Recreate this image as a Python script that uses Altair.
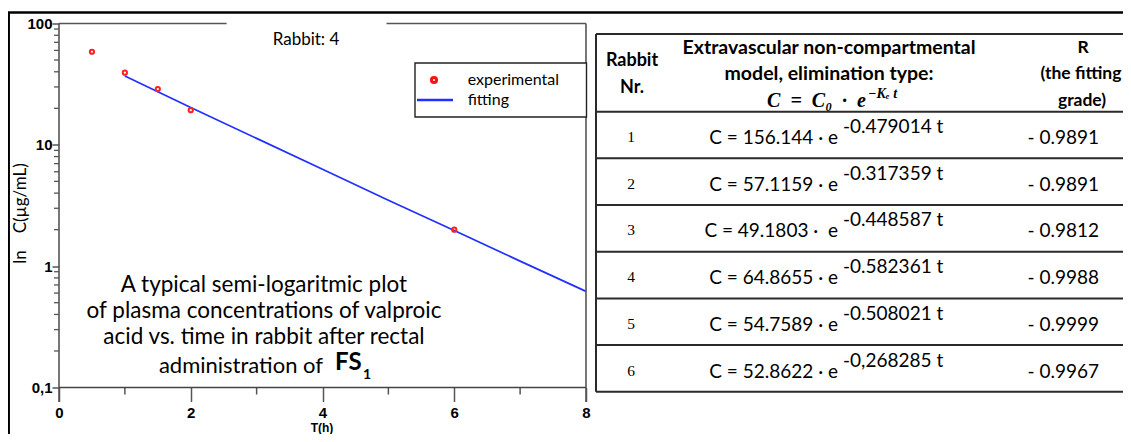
import altair as alt
import pandas as pd

# ---------------- data ----------------
t_exp = [0.5, 1.0, 1.5, 2.0, 6.0]
c_exp = [58.5, 39.3, 28.8, 19.3, 2.0]

t_fit = [1, 2, 3, 4, 5, 6, 7, 8]
c_fit = [37.0, 20.3, 11.3, 6.3, 3.5, 1.97, 1.1, 0.62]

x_major = [0, 2, 4, 6, 8]
x_minor = [1, 3, 5, 7]
y_major = [0.1, 1, 10, 100]
y_minor = [0.2, 0.3, 0.4, 0.5, 0.6, 0.7, 0.8, 0.9,
           2, 3, 4, 5, 6, 7, 8, 9,
           20, 30, 40, 50, 60, 70, 80, 90]

rabbit_nr = ["1", "2", "3", "4", "5", "6"]
c0_text = ["C = 156.144 · e", "C = 57.1159 · e", "C = 49.1803 ·\u00a0 e",
           "C = 64.8655 · e", "C = 54.7589 · e", "C = 52.8622 · e"]
ke_text = ["-0.479014 t", "-0.317359 t", "-0.448587 t",
           "-0.582361 t", "-0.508021 t", "-0,268285 t"]
r_text = ["- 0.9891", "- 0.9891", "- 0.9812", "- 0.9988", "- 0.9999", "- 0.9967"]

note_lines = ["A typical semi-logaritmic plot",
              "of plasma concentrations of valproic",
              "acid vs. time in rabbit after rectal"]

# ---------------- layout ----------------
W, H = 527, 364
NARROW = "Liberation Sans Narrow, Arial Narrow, Liberation Sans, Arial, sans-serif"
SANS = "Lato, Open Sans, sans-serif"
SERIF = "Liberation Serif, DejaVu Serif, serif"
AX = "#555555"
EN = "\u2002"

one = pd.DataFrame({"k": [0]})


def txt(s, x, y, size, font=SANS, weight="normal", align="center",
        style="normal", color="black", angle=0):
    return alt.Chart(one).mark_text(
        text=s, fontSize=size, font=font, fontWeight=weight, align=align,
        baseline="middle", fontStyle=style, color=color, angle=angle
    ).encode(x=alt.value(x), y=alt.value(y))


def rule(x, x2, y, y2, color="black", w=1.5):
    return alt.Chart(one).mark_rule(color=color, strokeWidth=w).encode(
        x=alt.value(x), x2=alt.value(x2), y=alt.value(y), y2=alt.value(y2))


xs = alt.Scale(domain=[0, 8], nice=False, zero=False)
ys = alt.Scale(type="log", domain=[0.1, 100], nice=False)

xax = alt.Axis(values=x_major, format="d", tickSize=14, tickWidth=1.5,
               tickColor=AX, domain=False, grid=False, labelFont=NARROW,
               labelFontSize=15, labelFontWeight="bold", labelColor="black",
               labelPadding=11, labelBaseline="middle", labelFlush=False,
               title=None)
yax = alt.Axis(values=y_major,
               labelExpr="datum.value >= 100 ? '100' : datum.value >= 10 ? '10' : datum.value >= 1 ? '1' : '0,1'",
               tickSize=7, tickWidth=1.5, tickColor=AX, domain=False,
               grid=False, labelFont=NARROW, labelFontSize=15,
               labelFontWeight="bold", labelColor="black", labelPadding=0,
               labelFlush=False, title=None)

exp_df = pd.DataFrame({"t": t_exp, "c": c_exp})
fit_df = pd.DataFrame({"t": t_fit, "c": c_fit})
yminor_df = pd.DataFrame({"v": y_minor})
xminor_df = pd.DataFrame({"v": x_minor})

layers = []

# minor ticks
layers.append(alt.Chart(yminor_df).mark_rule(color=AX, strokeWidth=1.3).encode(
    y=alt.Y("v:Q", scale=ys, axis=yax), x=alt.value(-5), x2=alt.value(0)))
layers.append(alt.Chart(xminor_df).mark_rule(color=AX, strokeWidth=1.5).encode(
    x=alt.X("v:Q", scale=xs, axis=xax), y=alt.value(H), y2=alt.value(H + 7)))

# fitted line and experimental points
layers.append(alt.Chart(fit_df).mark_line(color="#2230ff", strokeWidth=1.7).encode(
    x=alt.X("t:Q", scale=xs, axis=xax), y=alt.Y("c:Q", scale=ys, axis=yax)))
layers.append(alt.Chart(exp_df).mark_point(shape="circle", filled=False, color="#ff2020",
                                           size=18, strokeWidth=2, opacity=1).encode(
    x=alt.X("t:Q", scale=xs, axis=xax), y=alt.Y("c:Q", scale=ys, axis=yax)))

# plot frame
layers += [
    rule(0, 0, 0, H + 14.5, AX, 1.6),
    rule(W, W, 0, H + 14.5, AX, 1.6),
    rule(0, W, H, H, "#444444", 1.6),
    rule(0, 167.6, 0, 0, AX, 1.6),
    rule(327.5, W, 0, 0, AX, 1.6),
]

# outer frame
layers += [
    rule(-51, 1064, -11, -11, "black", 2.5),
    rule(-50.3, -50.3, -11, 411, "black", 2.5),
]

# title, axis titles
layers += [
    txt("Rabbit: 4", 247, 16, 17),
    txt("ln" + EN + EN + "C(µg/mL)", -38, 190, 17, angle=270),
    txt("T(h)", 263, 404, 12, font=NARROW, weight="bold"),
]

# legend
layers.append(alt.Chart(one).mark_rect(fill="white", stroke="#222222", strokeWidth=1.4).encode(
    x=alt.value(356), x2=alt.value(527.5), y=alt.value(39.5), y2=alt.value(93.5)))
layers.append(alt.Chart(one).mark_point(shape="circle", filled=False, color="#ff1010",
                                        size=26, strokeWidth=3, opacity=1).encode(
    x=alt.value(375), y=alt.value(56.5)))
layers.append(rule(358, 394, 76.5, 76.5, "#2230ff", 2.6))
layers += [
    txt("experimental", 408.7, 56.5, 16, align="left"),
    txt("fitting", 408.7, 76.5, 16, align="left"),
]

# annotation text
for i, s in enumerate(note_lines):
    layers.append(txt(s, 205, 261.5 + 25.9 * i, 22.5))
layers += [
    txt("administration of", 264, 342.5, 22, align="right"),
    txt("FS", 276, 339.5, 24, weight="bold", align="left"),
    txt("1", 304, 351, 14, weight="bold", align="left"),
]

# table frame
TL, TR = 537, 1064
row_lines = [10.5, 88.2, 134.8, 181.5, 228.2, 275.0, 321.5, 368.2]
for yy in row_lines:
    layers.append(rule(TL, TR, yy, yy, "#2a2a2a", 2))
layers.append(rule(TL, TL, 10.5, 368.2, "#2a2a2a", 2))

# table header
layers += [
    txt("Rabbit", 573, 37, 18, weight="bold"),
    txt("Nr.", 573, 64, 18, weight="bold"),
    txt("Extravascular non-compartmental", 770, 24.5, 19.5, weight="bold"),
    txt("model, elimination type:", 770, 50.5, 19.5, weight="bold"),
    txt("C" + EN + "=" + EN + "C₀" + EN + "·" + EN + "e", 807, 77, 20, font=SERIF,
        weight="bold", style="italic", align="right"),
    txt("−Kₑ t", 809, 70, 14, font=SERIF, weight="bold", style="italic", align="left"),
    txt("R", 1024, 24.5, 17.5, weight="bold"),
    txt("(the fitting", 1022, 50.5, 17.5, weight="bold"),
    txt("grade)", 1023, 77, 17.5, weight="bold"),
]

# table rows
for i in range(6):
    mid = 111.5 + 46.7 * i
    layers += [
        txt(rabbit_nr[i], 572, mid + 2, 15.5, font=SERIF),
        txt(c0_text[i], 779, mid + 3, 19, align="right"),
        txt(ke_text[i], 784, mid - 8, 19, align="left"),
        txt(r_text[i], 1040, mid + 3, 19, align="right"),
    ]

chart = alt.layer(*layers).properties(
    width=W, height=H,
    padding={"left": 51, "top": 15.5, "right": 537, "bottom": 46.5},
    autosize=alt.AutoSizeParams(type="none"),
).configure_view(stroke=None)

chart.save("out.html", embed_options={"renderer": "svg", "actions": False})
